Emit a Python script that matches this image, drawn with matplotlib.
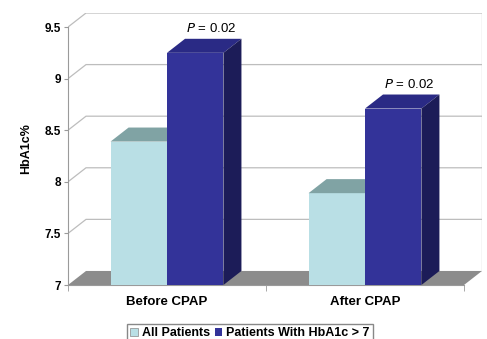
import matplotlib.pyplot as plt
from matplotlib.patches import Polygon, Patch

plt.rcParams['font.family'] = ['Liberation Sans', 'DejaVu Sans']

# data
categories = ['Before CPAP', 'After CPAP']
series_names = ['All Patients', 'Patients With HbA1c > 7']
all_patients = [8.39, 7.89]
hba1c_gt7 = [9.25, 8.71]
p_labels = ['0.02', '0.02']
y_ticks = [7, 7.5, 8, 8.5, 9, 9.5]
y_tick_labels = ['7', '7.5', '8', '8.5', '9', '9.5']

# colours: (front, top, side)
cols = [('#B9DFE5', '#80A3A4', '#6F8E90'),
        ('#333399', '#2A2A85', '#1C1C58')]
floor_col = '#8C8C8C'
grid_col = '#BDBDBD'

w = 0.285     # bar width
dx = 0.091    # depth offset in x units
dy = 0.136    # depth offset in y units
ymin, ymax = 7, 9.5

fig = plt.figure(figsize=(4.87, 3.39), dpi=100)
ax = fig.add_axes([68/487, 54/339, 414/487, 272/339])
ax.set_xlim(-0.5, 1.5 + dx)
ax.set_ylim(ymin, ymax + dy)

# back wall gridlines with the slanted part on the side wall
for v in y_ticks[1:]:
    ax.plot([-0.5, -0.5 + dx, 1.5 + dx], [v, v + dy, v + dy],
            color=grid_col, lw=0.9, zorder=1)
ax.plot([1.5 + dx, 1.5 + dx], [ymin + dy, ymax + dy], color=grid_col, lw=0.9, zorder=1)

# floor
ax.add_patch(Polygon([(-0.5, ymin), (1.5, ymin), (1.5 + dx, ymin + dy), (-0.5 + dx, ymin + dy)],
                     closed=True, facecolor=floor_col, edgecolor='none', zorder=2))

# 3D-looking bars
for j, vals in enumerate([all_patients, hba1c_gt7]):
    front, top, side = cols[j]
    for i, v in enumerate(vals):
        x0 = i - w + j * w
        z = 3 + j
        ax.bar(x0, v - ymin, width=w, bottom=ymin, align='edge',
               color=front, edgecolor='none', zorder=z)
        ax.add_patch(Polygon([(x0, v), (x0 + w, v), (x0 + w + dx, v + dy), (x0 + dx, v + dy)],
                             closed=True, facecolor=top, edgecolor='none', zorder=z))
        ax.add_patch(Polygon([(x0 + w, ymin), (x0 + w + dx, ymin + dy), (x0 + w + dx, v + dy), (x0 + w, v)],
                             closed=True, facecolor=side, edgecolor='none', zorder=z))

# P value labels over the darker bars
for i, v in enumerate(hba1c_gt7):
    ax.text(i + w / 2 + 0.08, v + dy + 0.1, r'$\it{P}$ = ' + p_labels[i],
            ha='center', va='center', fontsize=9.5, zorder=10)

# axes
for s in ['top', 'right']:
    ax.spines[s].set_visible(False)
ax.spines['left'].set_bounds(ymin, ymax)
ax.spines['bottom'].set_bounds(-0.5, 1.5)
for s in ['left', 'bottom']:
    ax.spines[s].set_color('#9A9A9A')
    ax.spines[s].set_linewidth(0.8)

ax.set_yticks(y_ticks)
ax.set_yticklabels(y_tick_labels, fontsize=8.5, fontweight='bold')
ax.tick_params(axis='y', length=3, color='#9A9A9A', pad=2)
ax.set_xticks([0, 1])
ax.set_xticklabels(categories, fontsize=9.5, fontweight='bold')
ax.set_xticks([-0.5, 0.5, 1.5], minor=True)
ax.tick_params(axis='x', which='major', length=0, pad=8)
ax.tick_params(axis='x', which='minor', length=4, color='#9A9A9A')
ax.set_ylabel('HbA1c%', fontsize=9, fontweight='bold', labelpad=9)

handles = [Patch(facecolor=cols[0][0], edgecolor='#888888', lw=0.5),
           Patch(facecolor=cols[1][0], edgecolor='none')]
fig.legend(handles, series_names, loc='lower center', bbox_to_anchor=(250/487, -0.01),
           ncol=2, prop={'weight': 'bold', 'size': 9},
           frameon=True, fancybox=False, edgecolor='#888888', framealpha=1,
           handlelength=0.6, handleheight=0.6, handletextpad=0.3, columnspacing=0.4,
           borderpad=0.25, borderaxespad=0.0)

fig.savefig('out.png', dpi=100)
